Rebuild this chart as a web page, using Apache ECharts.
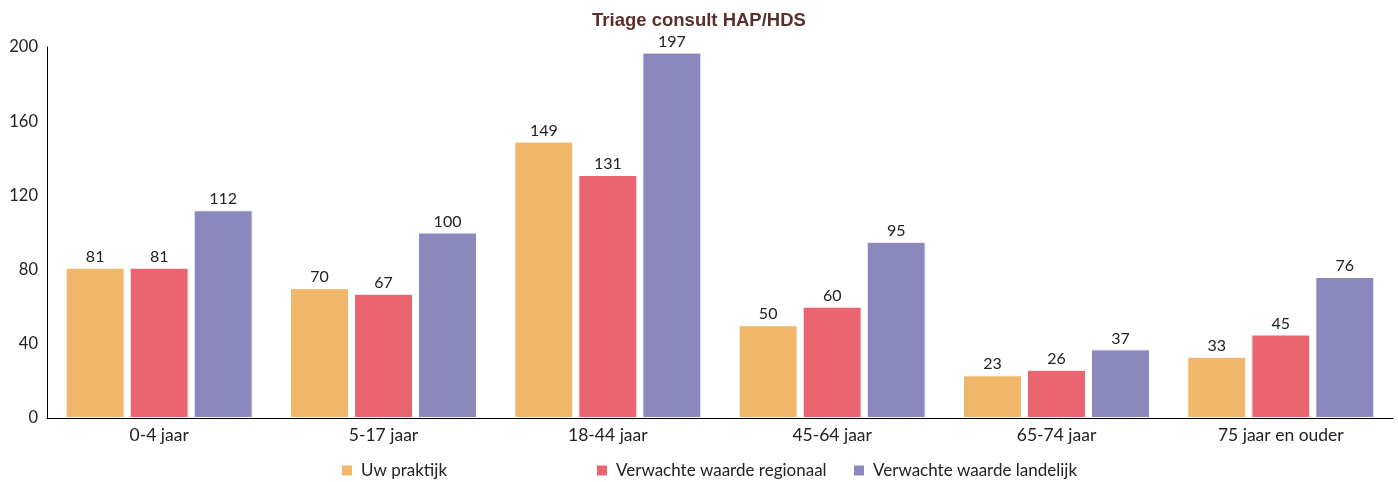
<!DOCTYPE html>
<html>
<head>
<meta charset="utf-8">
<script src="https://cdn.jsdelivr.net/npm/echarts@6/dist/echarts.min.js"></script>
<style>
  html, body { margin: 0; padding: 0; background: #fff; }
  #chart { width: 1398px; height: 482px; }
</style>
</head>
<body>
<div id="chart"></div>
<script>
// Data
const categories = ['0-4 jaar', '5-17 jaar', '18-44 jaar', '45-64 jaar', '65-74 jaar', '75 jaar en ouder'];
const seriesNames = ['Uw praktijk', 'Verwachte waarde regionaal', 'Verwachte waarde landelijk'];
const praktijk = [81, 70, 149, 50, 23, 33];
const regionaal = [81, 67, 131, 60, 26, 45];
const landelijk = [112, 100, 197, 95, 37, 76];
const colors = ['#F0B66A', '#EA6570', '#8B88BD'];

const FONT = 'Lato, "Noto Sans", sans-serif';

const chart = echarts.init(document.getElementById('chart'), null, { renderer: 'canvas' });

function barSeries(name, data, color) {
    return {
        name: name,
        type: 'bar',
        data: data,
        barWidth: 59,
        barGap: '8.5%',
        itemStyle: { color: color, borderColor: '#fff', borderWidth: 1 },
        label: {
            show: true,
            position: 'top',
            distance: 3,
            color: '#222',
            fontSize: 16,
            fontFamily: FONT
        }
    };
}

// one legend per item so the uneven spacing can be kept
const legendLefts = [340, 595, 852];

const option = {
    animation: false,
    color: colors,
    title: {
        text: 'Triage consult HAP/HDS',
        left: 'center',
        top: 6,
        textStyle: {
            color: '#5B2F2B',
            fontSize: 18.5,
            fontWeight: 'bold',
            fontFamily: 'Arial, "Liberation Sans", sans-serif'
        }
    },
    legend: seriesNames.map((n, i) => ({
        data: [n],
        left: legendLefts[i],
        top: 462,
        padding: 0,
        itemWidth: 12,
        itemHeight: 12,
        icon: 'rect',
        itemGap: 8,
        textStyle: { color: '#222', fontSize: 17, fontFamily: FONT, padding: [0, 0, 0, 3] }
    })),
    grid: { left: 47, right: 5, top: 47, bottom: 64 },
    xAxis: {
        type: 'category',
        data: categories,
        axisLine: { lineStyle: { color: '#000', width: 1 } },
        axisTick: { show: false },
        axisLabel: { color: '#222', fontSize: 17.5, margin: 8, fontFamily: FONT }
    },
    yAxis: {
        type: 'value',
        min: 0,
        max: 200,
        interval: 40,
        axisLine: { show: true, lineStyle: { color: '#000', width: 1 } },
        axisTick: { show: false },
        splitLine: { show: false },
        axisLabel: { color: '#222', fontSize: 16.5, margin: 9, fontFamily: FONT }
    },
    series: [
        barSeries(seriesNames[0], praktijk, colors[0]),
        barSeries(seriesNames[1], regionaal, colors[1]),
        barSeries(seriesNames[2], landelijk, colors[2])
    ]
};

chart.setOption(option);
</script>
</body>
</html>
